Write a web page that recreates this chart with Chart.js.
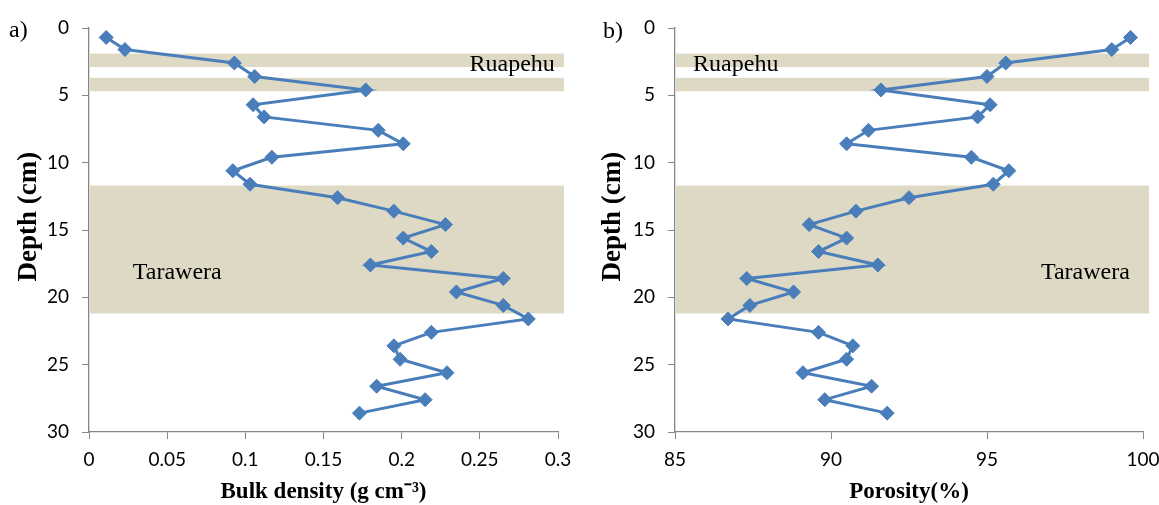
<!DOCTYPE html>
<html>
<head>
<meta charset="utf-8">
<script src="https://cdn.jsdelivr.net/npm/chart.js@4.4.0/dist/chart.umd.min.js"></script>
<style>
  body { margin: 0; background: #fff; }
  #wrap { display: flex; width: 1159px; height: 505px; }
  canvas { display: block; }
</style>
</head>
<body>
<div id="wrap">
  <canvas id="chartA" width="580" height="505"></canvas>
  <canvas id="chartB" width="579" height="505"></canvas>
</div>
<script>
// depth of each sample (cm)
var depths = [0.7, 1.6, 2.6, 3.6, 4.6, 5.7, 6.6, 7.6, 8.6, 9.6, 10.6, 11.6, 12.6, 13.6, 14.6,
              15.6, 16.6, 17.6, 18.6, 19.6, 20.6, 21.6, 22.6, 23.6, 24.6, 25.6, 26.6, 27.6, 28.6];
var bulkDensity = [0.011, 0.023, 0.093, 0.106, 0.177, 0.105, 0.112, 0.185, 0.201, 0.117, 0.092, 0.103,
                   0.159, 0.195, 0.228, 0.201, 0.219, 0.180, 0.265, 0.235, 0.265, 0.281, 0.219, 0.195,
                   0.199, 0.229, 0.184, 0.215, 0.173];
var porosity = [99.6, 99.0, 95.6, 95.0, 91.6, 95.1, 94.7, 91.2, 90.5, 94.5, 95.7, 95.2, 92.5, 90.8,
                89.3, 90.5, 89.6, 91.5, 87.3, 88.8, 87.4, 86.7, 89.6, 90.7, 90.5, 89.1, 91.3, 89.8, 91.8];
var depthTicks = [0, 5, 10, 15, 20, 25, 30];
// tephra layers (depth ranges, cm)
var bandTop = [1.9, 3.7, 11.7];
var bandBottom = [2.9, 4.7, 21.2];

var blue = '#4A7EBB';
var axisGrey = '#868686';

function points(values) {
    return values.map(function (v, i) { return { x: v, y: depths[i] }; });
}

var bandsPlugin = {
    id: 'bands',
    beforeDatasetsDraw: function (chart) {
        var ctx = chart.ctx, x = chart.scales.x, y = chart.scales.y;
        ctx.save();
        ctx.fillStyle = 'rgb(221,217,196)';
        for (var i = 0; i < bandTop.length; i++) {
            var t = y.getPixelForValue(bandTop[i]);
            var b = y.getPixelForValue(bandBottom[i]);
            ctx.fillRect(x.left + 1, t, x.right - x.left + 5, b - t);
        }
        ctx.restore();
    }
};

// panel letter, y title and layer names
function textPlugin(letter, titleX, notes) {
    return {
        id: 'notes',
        afterDraw: function (chart) {
            var ctx = chart.ctx, x = chart.scales.x, y = chart.scales.y;
            ctx.save();
            ctx.fillStyle = '#000';
            ctx.textBaseline = 'middle';
            ctx.font = '24px "Liberation Serif"';
            ctx.textAlign = 'left';
            ctx.fillText(letter.text, letter.x, letter.y);
            notes.forEach(function (n) {
                ctx.textAlign = n.align;
                ctx.fillText(n.text, x.getPixelForValue(n.value), y.getPixelForValue(n.depth));
            });
            ctx.translate(titleX, y.getPixelForValue(14));
            ctx.rotate(-Math.PI / 2);
            ctx.textAlign = 'center';
            ctx.font = 'bold 27px "Liberation Serif"';
            ctx.fillText('Depth (cm)', 0, 0);
            ctx.restore();
        }
    };
}

function makeOptions(xMin, xMax, xStep, xTitle, yWidth, padRight) {
    return {
        responsive: false,
        animation: false,
        devicePixelRatio: 1,
        layout: { padding: { top: 28, right: padRight, bottom: 0, left: 0 } },
        plugins: { legend: { display: false }, tooltip: { enabled: false } },
        scales: {
            x: {
                type: 'linear',
                min: xMin,
                max: xMax,
                afterFit: function (s) {
                    s.height = 73;
                    s.paddingLeft = 0;
                    s.paddingRight = 0;
                },
                ticks: {
                    stepSize: xStep,
                    padding: 9,
                    color: '#000',
                    font: { family: 'Lato', size: 19 },
                    callback: function (v) { return String(+v.toFixed(2)); }
                },
                grid: { drawOnChartArea: false, drawTicks: true, tickLength: 7, color: axisGrey },
                border: { color: axisGrey, width: 1.3 },
                title: {
                    display: true,
                    text: xTitle,
                    color: '#000',
                    padding: { top: 0, bottom: 0 },
                    font: { family: 'Liberation Serif', size: 23, weight: 'bold', lineHeight: 1.1 }
                }
            },
            y: {
                type: 'linear',
                reverse: true,
                min: 0,
                max: 30,
                afterFit: function (s) { s.width = yWidth; },
                afterBuildTicks: function (s) {
                    s.ticks = depthTicks.map(function (v) { return { value: v }; });
                },
                ticks: {
                    padding: 13,
                    color: '#000',
                    font: { family: 'Lato', size: 19 }
                },
                grid: { drawOnChartArea: false, drawTicks: true, tickLength: 7, color: axisGrey },
                border: { color: axisGrey, width: 1.3 }
            }
        }
    };
}

function dataset(values) {
    return {
        data: points(values),
        showLine: true,
        borderColor: blue,
        backgroundColor: blue,
        borderWidth: 3,
        pointStyle: 'rectRot',
        pointRadius: 7,
        pointBorderWidth: 1,
        tension: 0
    };
}

new Chart(document.getElementById('chartA').getContext('2d'), {
    type: 'scatter',
    data: { datasets: [dataset(bulkDensity)] },
    options: makeOptions(0, 0.3, 0.05, 'Bulk density (g cm\u207B\u00B3)', 89, 22),
    plugins: [bandsPlugin, textPlugin({ text: 'a)', x: 9, y: 31 }, 29, [
        { text: 'Ruapehu', value: 0.298, depth: 2.7, align: 'right' },
        { text: 'Tarawera', value: 0.028, depth: 18.2, align: 'left' }
    ])]
});

new Chart(document.getElementById('chartB').getContext('2d'), {
    type: 'scatter',
    data: { datasets: [dataset(porosity)] },
    options: makeOptions(85, 100, 5, 'Porosity(%)', 95, 16),
    plugins: [bandsPlugin, textPlugin({ text: 'b)', x: 23, y: 32 }, 33, [
        { text: 'Ruapehu', value: 85.58, depth: 2.7, align: 'left' },
        { text: 'Tarawera', value: 99.58, depth: 18.2, align: 'right' }
    ])]
});
</script>
</body>
</html>
